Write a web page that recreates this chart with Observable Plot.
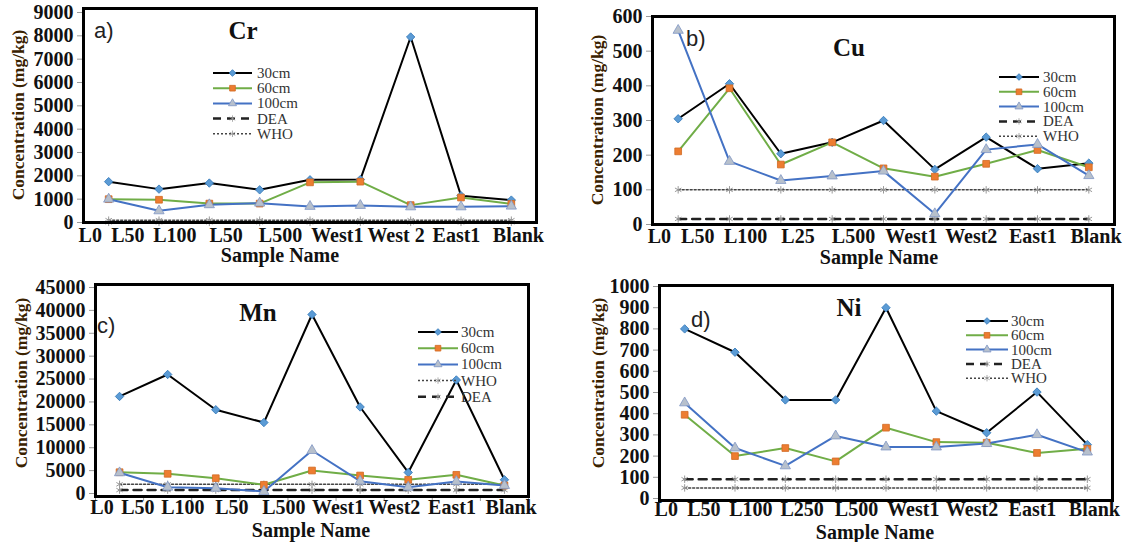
<!DOCTYPE html>
<html><head><meta charset="utf-8">
<script src="https://cdn.jsdelivr.net/npm/d3@7"></script>
<script src="https://cdn.jsdelivr.net/npm/@observablehq/plot@0.6"></script>
<style>
html,body{margin:0;padding:0;background:#fff;}
#root{position:relative;width:1124px;height:542px;overflow:hidden;background:#fff;}
.panel{position:absolute;}
</style></head><body><div id="root"></div>
<script>
// ---------------- DATA ----------------
const depths = ["30cm", "60cm", "100cm"];
const elements = ["Cr", "Cu", "Mn", "Ni"];
const panelTags = ["a)", "b)", "c)", "d)"];

const crLabels = ["L0","L50","L100","L50","L500","West1","West 2","East1","Blank"];
const cuLabels = ["L0","L50","L100","L25","L500","West1","West2","East1","Blank"];
const mnLabels = ["L0","L50","L100","L50","L500","West1","West2","East1","Blank"];
const niLabels = ["L0","L50","L100","L250","L500","West1","West2","East1","Blank"];

const cr30  = [1750, 1430, 1690, 1400, 1830, 1840, 7950, 1150, 960];
const cr60  = [1000, 975, 810, 810, 1720, 1750, 745, 1070, 800];
const cr100 = [1000, 500, 760, 830, 690, 730, 670, 670, 700];

const cu30  = [305, 406, 204, 237, 300, 159, 252, 161, 177];
const cu60  = [211, 393, 173, 237, 162, 138, 175, 215, 165];
const cu100 = [560, 182, 127, 140, 154, 31, 216, 231, 141];

const mn30  = [21200, 26000, 18300, 15500, 39100, 18900, 4600, 24800, 3000];
const mn60  = [4650, 4300, 3340, 1900, 5020, 3930, 3000, 4080, 1750];
const mn100 = [4520, 1380, 1160, 440, 9390, 2690, 1380, 2620, 1750];

const ni30  = [800, 690, 465, 465, 900, 412, 310, 502, 254];
const ni60  = [395, 200, 238, 175, 334, 266, 263, 215, 235];
const ni100 = [451, 238, 154, 295, 243, 243, 259, 301, 219];

const whoValues = [100, 100, 2000, 50];   // Cr, Cu, Mn, Ni
const deaValues = [6.5, 16, 740, 91];     // Cr, Cu, Mn, Ni

const crTicks = [0,1000,2000,3000,4000,5000,6000,7000,8000,9000];
const cuTicks = [0,100,200,300,400,500,600];
const mnTicks = [0,5000,10000,15000,20000,25000,30000,35000,40000,45000];
const niTicks = [0,100,200,300,400,500,600,700,800,900,1000];

const legendOrderA = ["30cm","60cm","100cm","DEA","WHO"];
const legendOrderC = ["30cm","60cm","100cm","WHO","DEA"];

// ---------------- STYLES ----------------
const serif = "'Liberation Serif', 'Times New Roman', serif";
const sans = "'Liberation Sans', Arial, sans-serif";
const styles = {
  "30cm":  {stroke: "#000000", width: 2, dash: null, symbol: "diamond2", d3s: d3.symbolDiamond2, r: 3.8, lr: 3, fill: "#5B9BD5", mstroke: "#2E75B6"},
  "60cm":  {stroke: "#70AD47", width: 2, dash: null, symbol: "square", d3s: d3.symbolSquare, r: 3.8, lr: 3.2, fill: "#ED7D31", mstroke: "#D06A22"},
  "100cm": {stroke: "#4472C4", width: 2, dash: null, symbol: "triangle", d3s: d3.symbolTriangle, r: 3.8, lr: 3, fill: "#B7C0CC", mstroke: "#7F96C4"},
  "DEA":   {stroke: "#222222", width: 2.5, dash: "8,6", symbol: "asterisk", d3s: d3.symbolAsterisk, r: 3.5, lr: 3, fill: "none", mstroke: "#999"},
  "WHO":   {stroke: "#444444", width: 1.5, dash: "2,2", symbol: "asterisk", d3s: d3.symbolAsterisk, r: 3.5, lr: 3, fill: "none", mstroke: "#999"}
};

// ---------------- LAYOUT ----------------
const panels = [
  {idx: 0, labels: crLabels, series: [cr30, cr60, cr100], ticks: crTicks, legend: legendOrderA,
   left: 0, top: 0, w: 562, h: 271, mL: 83, mR: 26, mT: 8, mB: 49, inT: 4, inB: 0, xPad: 5,
   title: [243, 30], tag: [94, 30], yTitle: [18, 115], xTitle: [280, 255],
   leg: {x0: 213, x1: 252, tx: 257, y0: 73, dy: 15.2}},
  {idx: 1, labels: cuLabels, series: [cu30, cu60, cu100], ticks: cuTicks, legend: legendOrderA,
   left: 562, top: 0, w: 562, h: 271, mL: 90, mR: 10, mT: 16, mB: 47, inT: 0, inB: 0, xPad: 4,
   title: [287, 47], tag: [124, 38], yTitle: [35, 120], xTitle: [317, 257],
   leg: {x0: 437, x1: 477, tx: 481, y0: 77, dy: 14.8}},
  {idx: 2, labels: mnLabels, series: [mn30, mn60, mn100], ticks: mnTicks, legend: legendOrderC, minorX: true,
   left: 0, top: 271, w: 562, h: 271, mL: 95, mR: 34, mT: 13, mB: 46, inT: 3, inB: 3, xPad: 3,
   title: [258, 41], tag: [97, 54], yTitle: [21, 112], xTitle: [311, 259],
   leg: {x0: 418, x1: 458, tx: 461, y0: 61, dy: 16.2}},
  {idx: 3, labels: niLabels, series: [ni30, ni60, ni100], ticks: niTicks, legend: legendOrderA,
   left: 562, top: 271, w: 562, h: 271, mL: 97, mR: 12, mT: 14, mB: 42, inT: 1, inB: 2, xPad: 1,
   title: [287, 36], tag: [129, 48], yTitle: [36, 112], xTitle: [313, 261],
   leg: {x0: 404, x1: 446, tx: 449, y0: 50, dy: 14.3}}
];

const root = document.getElementById("root");

function makePanel(cfg) {
  const n = cfg.labels.length;
  const limits = {WHO: whoValues[cfg.idx], DEA: deaValues[cfg.idx]};
  const rows = [];
  depths.forEach((d, s) => cfg.series[s].forEach((v, i) => rows.push({x: i + 0.5, y: v, key: d})));
  const guideRows = [];
  ["DEA", "WHO"].forEach(k => cfg.labels.forEach((_, i) => guideRows.push({x: i + 0.5, y: limits[k], key: k})));

  // tick label placement mimics the spread-out label row of the original figure
  const tickPos = cfg.labels.map((_, k) => n * (0.015 + 0.945 * Math.pow(k / (n - 1), 1.17)));
  const labelAt = new Map(tickPos.map((p, k) => [p, cfg.labels[k]]));

  const marks = [];
  marks.push(Plot.axisY({ticks: cfg.ticks, tickFormat: d => String(d), tickSize: 6, tickPadding: 4,
    stroke: "#9a9a9a", fill: "#111", fontSize: 20, fontWeight: "bold", fontFamily: serif, label: null}));
  if (cfg.minorX) {
    marks.push(Plot.axisX({ticks: d3.range(0, n + 1), tickSize: 5, tickFormat: () => "", stroke: "#9a9a9a", label: null}));
  }
  marks.push(Plot.axisX({ticks: tickPos, tickFormat: d => labelAt.get(d), tickSize: 0, tickPadding: cfg.xPad,
    fill: "#111", fontSize: 20, fontWeight: "bold", fontFamily: serif, label: null}));

  for (const k of ["WHO", "DEA"]) {
    const st = styles[k];
    const data = guideRows.filter(r => r.key === k);
    marks.push(Plot.lineY(data, {x: "x", y: "y", stroke: st.stroke, strokeWidth: st.width, strokeDasharray: st.dash}));
    marks.push(Plot.dot(data, {x: "x", y: "y", symbol: st.symbol, r: st.r, stroke: st.mstroke, strokeWidth: 1}));
  }
  for (const d of depths) {
    const st = styles[d];
    const data = rows.filter(r => r.key === d);
    marks.push(Plot.lineY(data, {x: "x", y: "y", stroke: st.stroke, strokeWidth: st.width}));
  }
  for (const d of depths) {
    const st = styles[d];
    const data = rows.filter(r => r.key === d);
    marks.push(Plot.dot(data, {x: "x", y: "y", symbol: st.symbol, r: st.r, fill: st.fill, stroke: st.mstroke, strokeWidth: 0.8}));
  }
  marks.push(Plot.frame({stroke: "#000", strokeWidth: 3}));

  const svg = Plot.plot({
    width: cfg.w, height: cfg.h,
    marginLeft: cfg.mL, marginRight: cfg.mR, marginTop: cfg.mT, marginBottom: cfg.mB,
    x: {type: "linear", domain: [0, n]},
    y: {type: "linear", domain: [cfg.ticks[0], cfg.ticks[cfg.ticks.length - 1]], insetTop: cfg.inT, insetBottom: cfg.inB},
    style: {background: "transparent", fontFamily: serif, color: "#111", overflow: "visible"},
    marks
  });

  const g = d3.select(svg).append("g");
  // element title
  g.append("text").attr("x", cfg.title[0]).attr("y", cfg.title[1]).attr("text-anchor", "middle")
    .attr("dominant-baseline", "central").attr("font-family", serif).attr("font-weight", "bold")
    .attr("font-size", 25).attr("fill", "#111").text(elements[cfg.idx]);
  // panel tag
  g.append("text").attr("x", cfg.tag[0]).attr("y", cfg.tag[1]).attr("text-anchor", "start")
    .attr("dominant-baseline", "central").attr("font-family", sans)
    .attr("font-size", 22).attr("fill", "#222").text(panelTags[cfg.idx]);
  // y title
  g.append("text").attr("transform", `translate(${cfg.yTitle[0]},${cfg.yTitle[1]}) rotate(-90)`)
    .attr("text-anchor", "middle").attr("dominant-baseline", "central").attr("font-family", serif)
    .attr("font-weight", "bold").attr("font-size", 17.5).attr("fill", "#3a2200").text("Concentration (mg/kg)");
  // x title
  g.append("text").attr("x", cfg.xTitle[0]).attr("y", cfg.xTitle[1]).attr("text-anchor", "middle")
    .attr("dominant-baseline", "central").attr("font-family", serif).attr("font-weight", "bold")
    .attr("font-size", 20).attr("fill", "#111").text("Sample Name");
  // legend
  const L = cfg.leg;
  cfg.legend.forEach((k, j) => {
    const st = styles[k];
    const y = L.y0 + j * L.dy;
    g.append("line").attr("x1", L.x0).attr("x2", L.x1).attr("y1", y).attr("y2", y)
      .attr("stroke", st.stroke).attr("stroke-width", st.width)
      .attr("stroke-dasharray", st.dash);
    g.append("path").attr("transform", `translate(${(L.x0 + L.x1) / 2},${y})`)
      .attr("d", d3.symbol(st.d3s, Math.PI * st.lr * st.lr)())
      .attr("fill", st.fill).attr("stroke", st.mstroke).attr("stroke-width", 0.8);
    g.append("text").attr("x", L.tx).attr("y", y).attr("text-anchor", "start").attr("dominant-baseline", "central")
      .attr("font-family", serif).attr("font-size", 15).attr("fill", "#333").text(k);
  });

  const div = document.createElement("div");
  div.className = "panel";
  div.style.left = cfg.left + "px";
  div.style.top = cfg.top + "px";
  div.appendChild(svg);
  root.appendChild(div);
}

panels.forEach(makePanel);
</script>
</body></html>
